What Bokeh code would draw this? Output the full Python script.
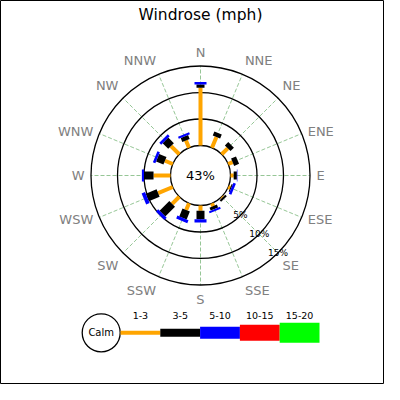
import numpy as np
from bokeh.plotting import figure
from bokeh.models import Range1d
from bokeh.core.properties import value
from bokeh.embed import file_html
from bokeh.resources import INLINE

# wind directions and frequency (%) per speed class
directions = ["N", "NNE", "NE", "ENE", "E", "ESE", "SE", "SSE",
              "S", "SSW", "SW", "WSW", "W", "WNW", "NW", "NNW"]
calm_pct = 43
speed_bins = ["1-3", "3-5", "5-10", "10-15", "15-20"]
bin_colors = ["orange", "black", "blue", "red", "lime"]
freq_1_3 = [10.9, 2.2, 1.6, 0.9, 0.6, 0.4, 0.2, 0.6,
            1.0, 1.4, 1.9, 3.0, 3.2, 1.6, 2.2, 1.5]
freq_3_5 = [0.6, 0.8, 0.9, 1.0, 0.6, 0.2, 0.4, 0.6,
            1.6, 1.6, 2.6, 2.2, 1.8, 1.5, 1.5, 0.8]
freq_5_10 = [0.5, 0.0, 0.0, 0.0, 0.1, 0.5, 0.0, 0.4,
             0.6, 0.6, 0.6, 0.7, 0.4, 0.5, 0.5, 0.4]
freq_10_15 = [0, 0, 0, 0, 0, 0, 0, 0, 0, 0, 0, 0, 0, 0, 0, 0]
freq_15_20 = [0, 0, 0, 0, 0, 0, 0, 0, 0, 0, 0, 0, 0, 0, 0, 0]
ring_pcts = [5, 10, 15]

r0 = 30.0      # calm circle radius
k = 5.3        # pixels per percent
bar_widths = [4, 8, 12, 16, 20]
font = value("DejaVu Sans")

p = figure(width=384, height=384, x_range=Range1d(-200, 184), y_range=Range1d(-209, 175),
           output_backend="svg", toolbar_location=None, min_border=0)
p.axis.visible = False
p.grid.visible = False
p.outline_line_color = "black"

theta = np.deg2rad(np.arange(len(directions)) * 360.0 / len(directions))
r_out = r0 + k * ring_pcts[-1]

# spokes
p.segment(r0 * np.sin(theta), r0 * np.cos(theta), r_out * np.sin(theta), r_out * np.cos(theta),
          line_color="#5aa55a", line_width=0.8, line_dash="4 2", line_alpha=0.8)

# rings
p.circle([0, 0, 0], [0, 0, 0], radius=[r0 + k * v for v in ring_pcts],
         fill_color=None, line_color="black", line_width=1.3)
p.circle([0], [0], radius=r0, fill_color=None, line_color="black", line_width=1.3)

# stacked bars
start = np.full(len(directions), r0)
for vals, col, w in zip([freq_1_3, freq_3_5, freq_5_10, freq_10_15, freq_15_20],
                        bin_colors, bar_widths):
    vals = np.array(vals, dtype=float)
    end = start + k * vals
    m = vals > 0
    if m.any():
        p.segment(start[m] * np.sin(theta[m]), start[m] * np.cos(theta[m]),
                  end[m] * np.sin(theta[m]), end[m] * np.cos(theta[m]),
                  line_color=col, line_width=w, line_cap="butt")
    start = end

# ring labels along SE
a = np.deg2rad(135)
p.text([(r0 + k * v) * np.sin(a) for v in ring_pcts], [(r0 + k * v) * np.cos(a) for v in ring_pcts],
       text=["%d%%" % v for v in ring_pcts], text_font=font, text_font_size="9px",
       text_align="center", text_baseline="middle", text_color="black")

# direction labels, aligned away from the rose
rl = 116
for i, d in enumerate(directions):
    s, c = np.sin(theta[i]), np.cos(theta[i])
    ha = "left" if s > 0.2 else ("right" if s < -0.2 else "center")
    va = "bottom" if c > 0.5 else ("top" if c < -0.5 else "middle")
    p.text([rl * s], [rl * c], text=[d], text_font=font, text_font_size="13px",
           text_align=ha, text_baseline=va, text_color="#808080")

p.text([0], [0], text=["%d%%" % calm_pct], text_font=font, text_font_size="13px",
       text_align="center", text_baseline="middle", text_color="black")

p.text([0], [161], text=["Windrose (mph)"], text_font=font, text_font_size="15.5px",
       text_align="center", text_baseline="middle", text_color="black")

# legend
ly = -157.3
p.circle([-99.3], [ly], radius=19, fill_color="white", line_color="black", line_width=1.3)
p.text([-99.3], [ly], text=["Calm"], text_font=font, text_font_size="10px",
       text_align="center", text_baseline="middle", text_color="black")
seg = 39.8
lx0 = -80 + seg * np.arange(len(speed_bins))
for i, (lab, col, w) in enumerate(zip(speed_bins, bin_colors, bar_widths)):
    p.segment([lx0[i]], [ly], [lx0[i] + seg], [ly], line_color=col, line_width=w, line_cap="butt")
p.text(lx0 + seg / 2, np.full(len(speed_bins), -140.0), text=speed_bins, text_font=font,
       text_font_size="9.5px", text_align="center", text_baseline="middle", text_color="black")

open("out.html", "w").write(file_html(p, INLINE))
